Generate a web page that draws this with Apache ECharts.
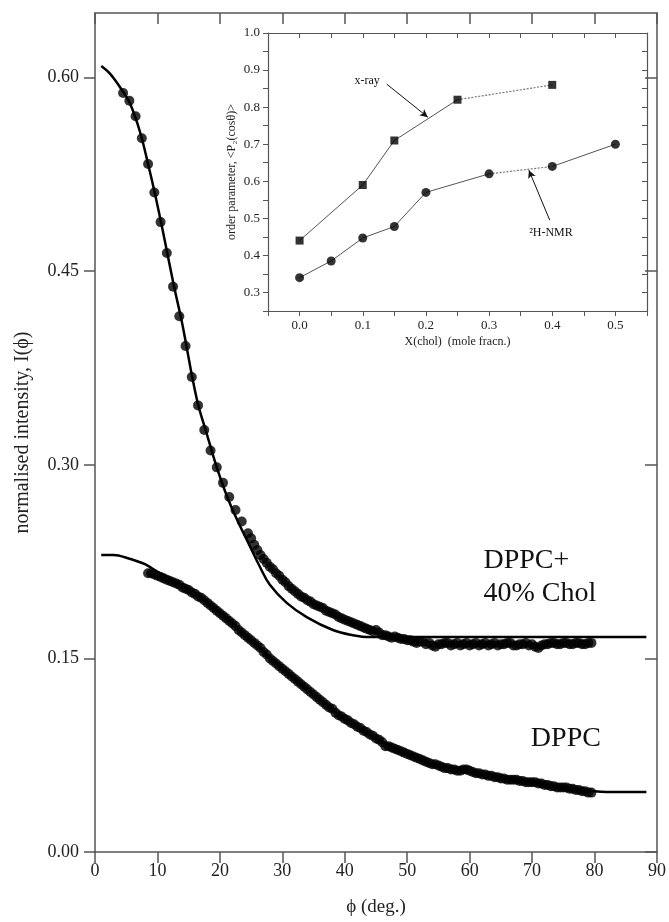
<!DOCTYPE html>
<html>
<head>
<meta charset="utf-8">
<script src="https://cdn.jsdelivr.net/npm/echarts/dist/echarts.min.js"></script>
<style>html,body{margin:0;padding:0;background:#fff}#c{width:669px;height:922px}</style>
</head>
<body>
<div id="c"></div>
<script>
// ---------- main chart data ----------
const cholFitX = [1, 2.4, 4.5, 5.6, 7.2, 8.5, 9.6, 10.7, 11.7, 12.8, 13.9, 16.3, 17.9, 19.5, 21.1, 22.7, 24.8, 26.4, 28, 30.7, 33.9, 38.1, 41.3, 44, 88.3];
const cholFitY = [0.609, 0.603, 0.589, 0.580, 0.558, 0.533, 0.510, 0.485, 0.461, 0.435, 0.411, 0.351, 0.324, 0.298, 0.276, 0.258, 0.237, 0.221, 0.207, 0.193, 0.182, 0.172, 0.168, 0.1665, 0.1665];

const cholDots = [
  [4.5,.588],[5.5,.582],[6.5,.570],[7.5,.553],[8.5,.533],[9.5,.511],[10.5,.488],[11.5,.464],[12.5,.438],[13.5,.415],
  [14.5,.392],[15.5,.368],[16.5,.346],[17.5,.327],[18.5,.311],[19.5,.298],[20.5,.286],[21.5,.275],[22.5,.265],[23.5,.256],[24.5,.247],
  [25,.243],[25.5,.238],[26,.234],[26.5,.230],[27,.227],[27.5,.224],[28,.221],[28.5,.219],[29,.216],[29.5,.214],
  [30,.211],[30.5,.209],[31,.206],[31.5,.204],[32,.202],[32.5,.200],[33,.198],[33.5,.197],[34,.195],[34.5,.194],
  [35,.192],[35.5,.191],[36,.190],[36.5,.189],[37,.187],[37.5,.186],[38,.185],[38.5,.184],[39,.182],[39.5,.181],
  [40,.180],[40.5,.179],[41,.178],[41.5,.177],[42,.176],[42.5,.175],[43,.174],[43.5,.173],[44,.172],[44.5,.171],
  [45,.172],[45.5,.170],[46,.168],[46.5,.168],[47,.167],[47.5,.166],[48,.167],[48.5,.166],[49,.165],[49.5,.165],
  [50,.164],[50.5,.164],[51,.163],[51.5,.162],[52,.163],[52.5,.163],[53,.161],[53.5,.162],[54,.160],[54.5,.159],
  [55,.161],[55.5,.161],[56,.162],[56.5,.162],[57,.160],[57.5,.161],[58,.162],[58.5,.160],[59,.161],[59.5,.162],
  [60,.160],[60.5,.161],[61,.162],[61.5,.160],[62,.161],[62.5,.162],[63,.160],[63.5,.161],[64,.162],[64.5,.160],
  [65,.161],[65.5,.161],[66,.162],[66.5,.162],[67,.160],[67.5,.160],[68,.161],[68.5,.161],[69,.162],[69.5,.160],
  [70,.161],[70.5,.159],[71,.158],[71.5,.160],[72,.161],[72.5,.161],[73,.162],[73.5,.162],[74,.161],[74.5,.161],
  [75,.162],[75.5,.162],[76,.161],[76.5,.161],[77,.162],[77.5,.162],[78,.161],[78.5,.161],[79,.162],[79.5,.162]
];

const dppcFitX = [1, 3, 5, 8, 10, 13, 16, 19, 23, 26, 30, 35, 40, 45, 50, 55, 60, 65, 70, 75, 80, 82, 88.3];
const dppcFitY = [0.230, 0.230, 0.228, 0.223, 0.217, 0.209, 0.200, 0.190, 0.173, 0.160, 0.142, 0.122, 0.103, 0.088, 0.076, 0.067, 0.062, 0.058, 0.054, 0.050, 0.047, 0.0465, 0.0465];

const dppcDots = [
  [8.5,.216],[9,.216],[9.5,.215],[10,.214],[10.5,.213],[11,.212],[11.5,.211],[12,.210],[12.5,.209],[13,.208],
  [13.5,.207],[14,.205],[14.5,.204],[15,.203],[15.5,.201],[16,.200],[16.5,.198],[17,.197],[17.5,.195],[18,.193],
  [18.5,.191],[19,.189],[19.5,.187],[20,.185],[20.5,.183],[21,.181],[21.5,.179],[22,.177],[22.5,.175],[23,.172],
  [23.5,.170],[24,.168],[24.5,.166],[25,.164],[25.5,.162],[26,.160],[26.5,.158],[27,.155],[27.5,.153],[28,.150],
  [28.5,.148],[29,.146],[29.5,.144],[30,.142],[30.5,.140],[31,.138],[31.5,.136],[32,.134],[32.5,.132],[33,.130],
  [33.5,.128],[34,.126],[34.5,.124],[35,.122],[35.5,.120],[36,.118],[36.5,.116],[37,.114],[37.5,.112],[38,.111],
  [38.5,.108],[39,.106],[39.5,.105],[40,.103],[40.5,.102],[41,.100],[41.5,.099],[42,.097],[42.5,.096],[43,.094],
  [43.5,.093],[44,.091],[44.5,.090],[45,.088],[45.5,.087],[46,.085],[46.5,.082],[47,.082],[47.5,.081],[48,.080],
  [48.5,.079],[49,.078],[49.5,.077],[50,.076],[50.5,.075],[51,.074],[51.5,.073],[52,.072],[52.5,.071],[53,.070],
  [53.5,.069],[54,.068],[54.5,.068],[55,.067],[55.5,.066],[56,.065],[56.5,.065],[57,.064],[57.5,.064],[58,.063],
  [58.5,.063],[59,.064],[59.5,.064],[60,.063],[60.5,.062],[61,.061],[61.5,.061],[62,.060],[62.5,.060],[63,.059],
  [63.5,.059],[64,.058],[64.5,.058],[65,.057],[65.5,.057],[66,.056],[66.5,.056],[67,.056],[67.5,.056],[68,.055],
  [68.5,.055],[69,.054],[69.5,.054],[70,.054],[70.5,.054],[71,.053],[71.5,.053],[72,.052],[72.5,.052],[73,.051],
  [73.5,.051],[74,.050],[74.5,.050],[75,.050],[75.5,.050],[76,.049],[76.5,.049],[77,.048],[77.5,.048],[78,.047],
  [78.5,.047],[79,.046],[79.5,.046]
];

const mainXTicks = [0, 10, 20, 30, 40, 50, 60, 70, 80, 90];
const mainYTicks = [0, 0.15, 0.30, 0.45, 0.60];

// ---------- inset data ----------
const insetX_xray = [0.0, 0.1, 0.15, 0.25, 0.4];
const insetY_xray = [0.44, 0.59, 0.71, 0.82, 0.86];
const insetX_nmr = [0.0, 0.05, 0.1, 0.15, 0.2, 0.3, 0.4, 0.5];
const insetY_nmr = [0.34, 0.385, 0.447, 0.478, 0.57, 0.62, 0.64, 0.70];
const insetXLabels = [0.0, 0.1, 0.2, 0.3, 0.4, 0.5];
const insetXMinor = [-0.05, 0.0, 0.05, 0.1, 0.15, 0.2, 0.25, 0.3, 0.35, 0.4, 0.45, 0.5, 0.55];
const insetYLabels = [0.3, 0.4, 0.5, 0.6, 0.7, 0.8, 0.9, 1.0];
const insetYMinor = [0.25, 0.3, 0.35, 0.4, 0.45, 0.5, 0.55, 0.6, 0.65, 0.7, 0.75, 0.8, 0.85, 0.9, 0.95, 1.0];

const zip = (xs, ys) => xs.map((x, i) => [x, ys[i]]);

const SERIF = '"Liberation Serif", "Times New Roman", serif';
const AX = '#555';
const TXT = '#222';

const chart = echarts.init(document.getElementById('c'), null, {renderer: 'canvas'});

function axisBase(extra) {
  return Object.assign({
    axisLine: {show: true, onZero: false, lineStyle: {color: AX, width: 1.5}},
    splitLine: {show: false},
  }, extra);
}

const option = {
  backgroundColor: '#fff',
  animation: false,
  grid: [
    {left: 95, right: 9, top: 13, bottom: 70},
    {left: 268, right: 22, top: 33, bottom: 611}
  ],
  xAxis: [
    axisBase({gridIndex: 0, type: 'value', min: 0, max: 90, position: 'bottom',
      axisTick: {show: true, inside: false, length: 11, customValues: mainXTicks, lineStyle: {color: AX, width: 1.5}},
      axisLabel: {customValues: mainXTicks, fontFamily: SERIF, fontSize: 18, color: TXT, margin: 10},
      name: 'ϕ (deg.)', nameLocation: 'middle', nameGap: 46,
      nameTextStyle: {fontFamily: SERIF, fontSize: 19, color: TXT}}),
    axisBase({gridIndex: 0, type: 'value', min: 0, max: 90, position: 'top',
      axisTick: {show: true, inside: true, length: 11, customValues: mainXTicks, lineStyle: {color: AX, width: 1.5}},
      axisLabel: {show: false}}),
    axisBase({gridIndex: 1, type: 'value', min: -0.05, max: 0.55, position: 'bottom',
      axisLine: {show: true, onZero: false, lineStyle: {color: AX, width: 1.2}},
      axisTick: {show: true, inside: false, length: 5, customValues: insetXMinor, lineStyle: {color: AX, width: 1}},
      axisLabel: {customValues: insetXLabels, fontFamily: SERIF, fontSize: 13, color: TXT, margin: 8,
        formatter: v => v.toFixed(1)},
      name: 'X(chol)  (mole fracn.)', nameLocation: 'middle', nameGap: 25, nameMoveOverlap: false,
      nameTextStyle: {fontFamily: SERIF, fontSize: 12, color: TXT}}),
    axisBase({gridIndex: 1, type: 'value', min: -0.05, max: 0.55, position: 'top',
      axisLine: {show: true, onZero: false, lineStyle: {color: AX, width: 1.2}},
      axisTick: {show: true, inside: true, length: 5, customValues: insetXMinor, lineStyle: {color: AX, width: 1}},
      axisLabel: {show: false}})
  ],
  yAxis: [
    axisBase({gridIndex: 0, type: 'value', min: 0, max: 0.65, position: 'left',
      axisTick: {show: true, inside: false, length: 11, customValues: mainYTicks, lineStyle: {color: AX, width: 1.5}},
      axisLabel: {customValues: mainYTicks, fontFamily: SERIF, fontSize: 18, color: TXT, margin: 16,
        formatter: v => v.toFixed(2)},
      name: 'normalised intensity, I(ϕ)', nameLocation: 'middle', nameGap: 62,
      nameTextStyle: {fontFamily: SERIF, fontSize: 20, color: TXT}}),
    axisBase({gridIndex: 0, type: 'value', min: 0, max: 0.65, position: 'right',
      axisTick: {show: true, inside: true, length: 12, customValues: mainYTicks, lineStyle: {color: AX, width: 1.5}},
      axisLabel: {show: false}}),
    axisBase({gridIndex: 1, type: 'value', min: 0.25, max: 1.0, position: 'left',
      axisLine: {show: true, onZero: false, lineStyle: {color: AX, width: 1.2}},
      axisTick: {show: true, inside: false, length: 5, customValues: insetYMinor, lineStyle: {color: AX, width: 1}},
      axisLabel: {customValues: insetYLabels, fontFamily: SERIF, fontSize: 13, color: TXT, margin: 8,
        formatter: v => v.toFixed(1)},
      name: 'order parameter, <P₂(cosθ)>', nameLocation: 'middle', nameGap: 30, nameMoveOverlap: false,
      nameTextStyle: {fontFamily: SERIF, fontSize: 12, color: TXT}}),
    axisBase({gridIndex: 1, type: 'value', min: 0.25, max: 1.0, position: 'right',
      axisLine: {show: true, onZero: false, lineStyle: {color: AX, width: 1.2}},
      axisTick: {show: true, inside: true, length: 5, customValues: insetYMinor, lineStyle: {color: AX, width: 1}},
      axisLabel: {show: false}})
  ],
  series: [
    {type: 'line', xAxisIndex: 0, yAxisIndex: 0, data: zip(cholFitX, cholFitY), smooth: 0.4,
      showSymbol: false, lineStyle: {color: '#000', width: 2.5}, z: 3},
    {type: 'line', xAxisIndex: 0, yAxisIndex: 0, data: zip(dppcFitX, dppcFitY), smooth: 0.3,
      showSymbol: false, lineStyle: {color: '#000', width: 2.5}, z: 3},
    {type: 'scatter', xAxisIndex: 0, yAxisIndex: 0, data: cholDots,
      symbol: 'circle', symbolSize: 10, itemStyle: {color: '#000'}, z: 4},
    {type: 'scatter', xAxisIndex: 0, yAxisIndex: 0, data: dppcDots,
      symbol: 'circle', symbolSize: 10, itemStyle: {color: '#000'}, z: 4},
    // inset: x-ray solid & dotted segments
    {type: 'line', xAxisIndex: 2, yAxisIndex: 2, data: zip(insetX_xray, insetY_xray).slice(0, 4),
      showSymbol: false, lineStyle: {color: '#555', width: 1}},
    {type: 'line', xAxisIndex: 2, yAxisIndex: 2, data: zip(insetX_xray, insetY_xray).slice(3, 5),
      showSymbol: false, lineStyle: {color: '#777', width: 1.2, type: [2, 1.5]}},
    // inset: NMR
    {type: 'line', xAxisIndex: 2, yAxisIndex: 2, data: zip(insetX_nmr, insetY_nmr).slice(0, 6),
      showSymbol: false, lineStyle: {color: '#555', width: 1}},
    {type: 'line', xAxisIndex: 2, yAxisIndex: 2, data: zip(insetX_nmr, insetY_nmr).slice(5, 7),
      showSymbol: false, lineStyle: {color: '#777', width: 1.2, type: [2, 1.5]}},
    {type: 'line', xAxisIndex: 2, yAxisIndex: 2, data: zip(insetX_nmr, insetY_nmr).slice(6, 8),
      showSymbol: false, lineStyle: {color: '#555', width: 1}},
    {type: 'scatter', xAxisIndex: 2, yAxisIndex: 2, data: zip(insetX_xray, insetY_xray),
      symbol: 'rect', symbolSize: 8, itemStyle: {color: '#000'}, z: 5,
      markLine: {silent: true, symbol: ['none', 'arrow'], symbolSize: [6, 8], label: {show: false},
        lineStyle: {color: '#111', width: 1, type: 'solid'},
        data: [[{coord: [0.138, 0.862]}, {coord: [0.203, 0.773]}]]}},
    {type: 'scatter', xAxisIndex: 2, yAxisIndex: 2, data: zip(insetX_nmr, insetY_nmr),
      symbol: 'circle', symbolSize: 9, itemStyle: {color: '#000'}, z: 5,
      markLine: {silent: true, symbol: ['none', 'arrow'], symbolSize: [6, 8], label: {show: false},
        lineStyle: {color: '#111', width: 1, type: 'solid'},
        data: [[{coord: [0.396, 0.495]}, {coord: [0.363, 0.630]}]]}}
  ]
};
chart.setOption(option);

// text annotations placed in data coordinates
const mainNotes = [
  {text: 'DPPC+', at: [62.2, 0.226]},
  {text: '40% Chol', at: [62.2, 0.200]},
  {text: 'DPPC', at: [69.8, 0.0875]}
];
const insetNotes = [
  {text: 'x-ray', at: [0.107, 0.870], size: 12},
  {text: '²H-NMR', at: [0.398, 0.462], size: 12}
];
const g = [];
mainNotes.forEach(n => {
  const p = chart.convertToPixel({gridIndex: 0}, n.at);
  g.push({type: 'text', x: p[0], y: p[1], style: {text: n.text, font: '28px ' + SERIF, fill: '#111',
    textAlign: 'left', textVerticalAlign: 'middle'}});
});
insetNotes.forEach(n => {
  const p = chart.convertToPixel({gridIndex: 1}, n.at);
  g.push({type: 'text', x: p[0], y: p[1], style: {text: n.text, font: n.size + 'px ' + SERIF, fill: '#111',
    textAlign: 'center', textVerticalAlign: 'middle'}});
});
chart.setOption({graphic: g});
</script>
</body>
</html>
